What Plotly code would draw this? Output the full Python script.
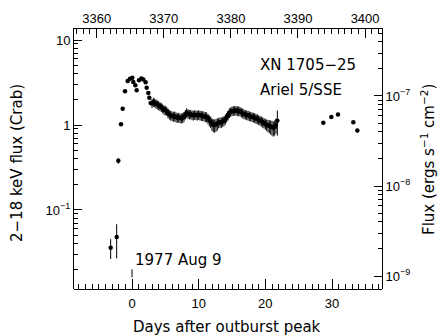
import plotly.graph_objects as go

# Ariel 5 / SSE light curve of XN 1705-25 (2-18 keV, Crab units)
days = [
    -3.2, -2.3, -2.05, -1.65, -1.4, -1.05, -0.65, -0.3, 0.05, 0.2, 0.5, 0.7,
    1.05, 1.4, 1.7, 2.05, 2.2, 2.45, 2.6, 2.8,
    3.0, 3.2, 3.4, 3.6, 3.8, 4.0, 4.2, 4.4, 4.6, 4.8,
    5.0, 5.2, 5.4, 5.6, 5.8, 6.0, 6.2, 6.4, 6.6, 6.8,
    7.0, 7.2, 7.4, 7.6, 7.8, 8.0, 8.2, 8.4, 8.6, 8.8,
    9.0, 9.2, 9.4, 9.6, 9.8, 10.0, 10.2, 10.4, 10.6, 10.8,
    11.0, 11.2, 11.4, 11.6, 11.8, 12.0, 12.2, 12.4, 12.6, 12.8,
    13.0, 13.2, 13.4, 13.6, 13.8, 14.0, 14.2, 14.4, 14.6, 14.8,
    15.0, 15.2, 15.4, 15.6, 15.8, 16.0, 16.2, 16.4, 16.6, 16.8,
    17.0, 17.2, 17.4, 17.6, 17.8, 18.0, 18.2, 18.4, 18.6, 18.8,
    19.0, 19.2, 19.4, 19.6, 19.8, 20.0, 20.2, 20.4, 20.6, 20.8,
    21.0, 21.2, 21.4, 21.6, 21.8,
    28.7, 29.9, 30.9, 33.2, 33.8,
]
flux_crab = [
    0.036, 0.048, 0.38, 1.02, 1.55, 2.5, 3.3, 3.5, 3.6, 3.2, 2.93, 2.56,
    3.36, 3.52, 3.43, 3.18, 2.75, 2.38, 2.1, 1.81,
    1.80, 1.86, 1.83, 1.78, 1.74, 1.70, 1.66, 1.62, 1.56, 1.51,
    1.49, 1.46, 1.38, 1.33, 1.30, 1.28, 1.26, 1.27, 1.24, 1.22,
    1.23, 1.21, 1.20, 1.22, 1.25, 1.33, 1.39, 1.36, 1.33, 1.34,
    1.31, 1.30, 1.32, 1.31, 1.30, 1.32, 1.30, 1.29, 1.28, 1.27,
    1.25, 1.24, 1.19, 1.14, 1.10, 1.04, 1.01, 1.00, 1.02, 1.04,
    1.06, 1.08, 1.07, 1.10, 1.12, 1.17, 1.23, 1.30, 1.39, 1.43,
    1.46, 1.47, 1.48, 1.48, 1.46, 1.47, 1.44, 1.41, 1.38, 1.35,
    1.33, 1.31, 1.30, 1.28, 1.26, 1.25, 1.23, 1.22, 1.19, 1.18,
    1.15, 1.13, 1.11, 1.08, 1.06, 1.03, 1.01, 0.99, 0.98, 0.96,
    0.95, 0.93, 0.95, 1.00, 1.12,
    1.06, 1.24, 1.33, 1.08, 0.86,
]
err_up = [
    0.0094, 0.020, 0.03, 0.05, 0.07, 0.10, 0.12, 0.12, 0.12, 0.12, 0.11, 0.10,
    0.12, 0.12, 0.12, 0.12, 0.11, 0.10, 0.09, 0.10,
    0.22, 0.23, 0.22, 0.22, 0.21, 0.21, 0.20, 0.20, 0.19, 0.19,
    0.19, 0.18, 0.18, 0.17, 0.17, 0.17, 0.17, 0.17, 0.17, 0.16,
    0.16, 0.16, 0.16, 0.16, 0.17, 0.17, 0.18, 0.18, 0.17, 0.17,
    0.17, 0.17, 0.17, 0.17, 0.17, 0.17, 0.17, 0.17, 0.17, 0.17,
    0.17, 0.17, 0.16, 0.16, 0.16, 0.16, 0.16, 0.16, 0.16, 0.16,
    0.15, 0.15, 0.15, 0.15, 0.15, 0.16, 0.16, 0.17, 0.18, 0.18,
    0.19, 0.19, 0.19, 0.19, 0.19, 0.19, 0.19, 0.18, 0.18, 0.18,
    0.17, 0.17, 0.17, 0.17, 0.16, 0.16, 0.16, 0.16, 0.16, 0.16,
    0.15, 0.15, 0.15, 0.15, 0.15, 0.15, 0.15, 0.16, 0.16, 0.17,
    0.17, 0.17, 0.18, 0.19, 0.36,
    0.04, 0.04, 0.04, 0.04, 0.04,
]
err_dn = [
    0.0095, 0.021, 0.03, 0.05, 0.07, 0.10, 0.12, 0.12, 0.12, 0.12, 0.11, 0.10,
    0.12, 0.12, 0.12, 0.12, 0.11, 0.10, 0.09, 0.10,
    0.22, 0.23, 0.22, 0.22, 0.21, 0.21, 0.20, 0.20, 0.19, 0.19,
    0.19, 0.18, 0.18, 0.17, 0.17, 0.17, 0.17, 0.17, 0.17, 0.16,
    0.16, 0.16, 0.16, 0.16, 0.17, 0.17, 0.18, 0.18, 0.17, 0.17,
    0.17, 0.17, 0.17, 0.17, 0.17, 0.17, 0.17, 0.17, 0.17, 0.17,
    0.17, 0.17, 0.17, 0.18, 0.18, 0.19, 0.19, 0.19, 0.19, 0.18,
    0.15, 0.15, 0.15, 0.15, 0.15, 0.16, 0.16, 0.17, 0.18, 0.18,
    0.19, 0.19, 0.19, 0.19, 0.19, 0.19, 0.19, 0.18, 0.18, 0.18,
    0.17, 0.17, 0.17, 0.17, 0.16, 0.16, 0.16, 0.16, 0.16, 0.16,
    0.15, 0.15, 0.15, 0.15, 0.15, 0.15, 0.16, 0.17, 0.18, 0.19,
    0.20, 0.20, 0.20, 0.21, 0.37,
    0.04, 0.04, 0.04, 0.04, 0.04,
]

# Axis definitions
day_range = [-8.7, 37.5]
jd_range = [3356.62, 3402.52]          # JD - 2440000
jd_ticks = [3360, 3370, 3380, 3390, 3400]
jd_minor = list(range(3357, 3403))
crab_log_range = [-1.93, 1.13]
crab_ticks = [0.1, 1, 10]
crab_ticktext = ["10<sup>\u22121</sup>", "1", "10"]
erg_log_range = [-9.144, -6.256]
erg_ticks = [1e-9, 1e-8, 1e-7]
erg_ticktext = ["10<sup>\u22129</sup>", "10<sup>\u22128</sup>", "10<sup>\u22127</sup>"]

# Outburst-peak date marker
peak_day = 0
peak_mark_crab = [0.0161, 0.0200]

crab_minor = [m * d for d in (0.01, 0.1, 1) for m in range(2, 10)]
erg_minor = [m * d for d in (1e-9, 1e-8) for m in range(2, 10)] + [2e-7, 3e-7, 4e-7, 5e-7]

TITLE_FONT = dict(family="DejaVu Sans", size=15, color="black")
TICK_FONT = dict(family="Liberation Sans", size=13, color="black")

# Plot-area geometry in pixels (used to place the outer titles)
W, H = 441, 335
L, R, T, B = 74, 59, 29, 46
PW, PH = W - L - R, H - T - B


def px_to_paper(px, py):
    return (px - L) / PW, (H - B - py) / PH


fig = go.Figure()

fig.add_trace(go.Scatter(
    x=days, y=flux_crab, mode="markers",
    marker=dict(color="black", size=4.5),
    error_y=dict(type="data", symmetric=False, array=err_up, arrayminus=err_dn,
                 color="black", thickness=1, width=0),
    showlegend=False,
))

fig.add_trace(go.Scatter(
    x=[peak_day, peak_day], y=peak_mark_crab, mode="lines",
    line=dict(color="black", width=1), showlegend=False,
))

# Empty traces that carry the top (JD) axis and the right (erg) axis
fig.add_trace(go.Scatter(x=[], y=[], xaxis="x2", yaxis="y", showlegend=False))
fig.add_trace(go.Scatter(x=[], y=[], xaxis="x", yaxis="y2", showlegend=False))

fig.update_layout(
    width=W, height=H,
    margin=dict(l=L, r=R, t=T, b=B),
    paper_bgcolor="white", plot_bgcolor="white",
    # Day axis: pinned to the bottom edge of the frame, ticks pointing up
    # into the frame and labels hanging below the line
    xaxis=dict(
        range=day_range, tickmode="linear", tick0=0, dtick=10,
        side="top", anchor="free", position=0,
        ticks="outside", ticklabelposition="inside", ticklabeloverflow="allow",
        ticklabelstandoff=9,
        ticklen=10, tickcolor="black", tickwidth=1,
        showline=True, linecolor="black", linewidth=1,
        showgrid=False, zeroline=False, tickfont=TICK_FONT,
        minor=dict(dtick=1, tick0=0, ticklen=5, ticks="outside", tickcolor="black"),
    ),
    xaxis2=dict(
        range=jd_range, tickmode="array", tickvals=jd_ticks, ticklen=9,
        overlaying="x", side="top", anchor="y",
        ticks="inside", tickcolor="black", tickwidth=1,
        showline=True, linecolor="black", linewidth=1,
        showgrid=False, zeroline=False, tickfont=TICK_FONT,
        minor=dict(tickmode="array", tickvals=jd_minor, ticklen=5,
                   ticks="inside", tickcolor="black"),
    ),
    yaxis=dict(
        type="log", range=crab_log_range, tickmode="array", tickvals=crab_ticks,
        ticktext=crab_ticktext, ticklen=8, anchor="x",
        ticks="inside", tickcolor="black", tickwidth=1,
        showline=True, linecolor="black", linewidth=1,
        showgrid=False, zeroline=False, tickfont=TICK_FONT,
        minor=dict(tickmode="array", tickvals=crab_minor, ticklen=4,
                   ticks="inside", tickcolor="black"),
    ),
    yaxis2=dict(
        type="log", range=erg_log_range, tickmode="array", tickvals=erg_ticks,
        ticktext=erg_ticktext, ticklen=8, overlaying="y", side="right", anchor="x",
        ticks="inside", tickcolor="black", tickwidth=1,
        showline=True, linecolor="black", linewidth=1,
        showgrid=False, zeroline=False, tickfont=TICK_FONT,
        minor=dict(tickmode="array", tickvals=erg_minor, ticklen=4,
                   ticks="inside", tickcolor="black"),
    ),
)

fig.add_annotation(text="XN 1705\u221225", x=18.9, y=0.704, xref="x", yref="y",
                   xanchor="left", yanchor="middle", showarrow=False, font=TITLE_FONT)
fig.add_annotation(text="Ariel 5/SSE", x=18.9, y=0.408, xref="x", yref="y",
                   xanchor="left", yanchor="middle", showarrow=False, font=TITLE_FONT)
fig.add_annotation(text="1977 Aug 9", x=0.15, y=-1.592, xref="x", yref="y",
                   xanchor="left", yanchor="middle", showarrow=False, font=TITLE_FONT)

# Axis titles
bx, by = px_to_paper(226.5, 326.5)
fig.add_annotation(text="Days after outburst peak", x=bx, y=by,
                   xref="paper", yref="paper", xanchor="center", yanchor="middle",
                   showarrow=False, font=TITLE_FONT)
lx, ly = px_to_paper(17, 163)
fig.add_annotation(text="2\u221218 keV flux (Crab)", x=lx, y=ly,
                   xref="paper", yref="paper", xanchor="center", yanchor="middle",
                   textangle=-90, showarrow=False, font=TITLE_FONT)
rx, ry = px_to_paper(428, 160)
fig.add_annotation(text="Flux (ergs s<sup>\u22121</sup> cm<sup>\u22122</sup>)",
                   x=rx, y=ry,
                   xref="paper", yref="paper", xanchor="center", yanchor="middle",
                   textangle=-90, showarrow=False, font=TITLE_FONT)

fig.write_html("out.html")
